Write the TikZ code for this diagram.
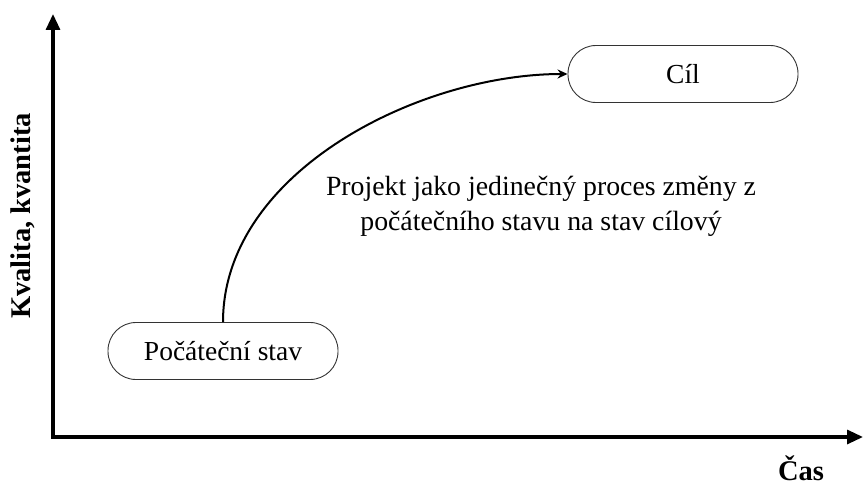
\documentclass[tikz,border=0pt]{standalone}
\usepackage{fontspec}
\setmainfont{Liberation Serif}
\usetikzlibrary{arrows.meta}
\begin{document}
\begin{tikzpicture}[x=1pt,y=-1pt,
  stadium/.style={draw=black!80, line width=0.9pt, rounded corners=28pt, minimum width=230pt, minimum height=57pt, inner sep=0pt, font=\fontsize{27.5}{32}\selectfont},
  axis/.style={line width=3.2pt, -{Triangle[length=16pt,width=14pt]}},
  axlabel/.style={font=\bfseries\fontsize{28.5}{33}\selectfont},
  txt/.style={font=\fontsize{27.8}{35}\selectfont, align=center}]
\useasboundingbox (0,0) rectangle (863,487);
\coordinate (O) at (53,437);
\coordinate (Ytip) at (53,14);
\coordinate (Xtip) at (863,437);
\draw[axis] (O) -- (Ytip);
\draw[axis] ([xshift=-1.6pt]O) -- (Xtip);
\node[stadium] (start) at (223,351) {Počáteční stav};
\node[stadium] (goal) at (683,74) {Cíl};
\draw[line width=2pt, -{Stealth[length=10pt,width=9pt]}] (start.north) to[out=90,in=180,looseness=0.9] (goal.west);
\node[txt] (desc) at (541,206) {Projekt jako jedinečný proces změny z\\počátečního stavu na stav cílový};
\node[axlabel, rotate=90] (ylab) at (23,216) {Kvalita, kvantita};
\node[axlabel] (xlab) at (801,468) {Čas};
\end{tikzpicture}
\end{document}
